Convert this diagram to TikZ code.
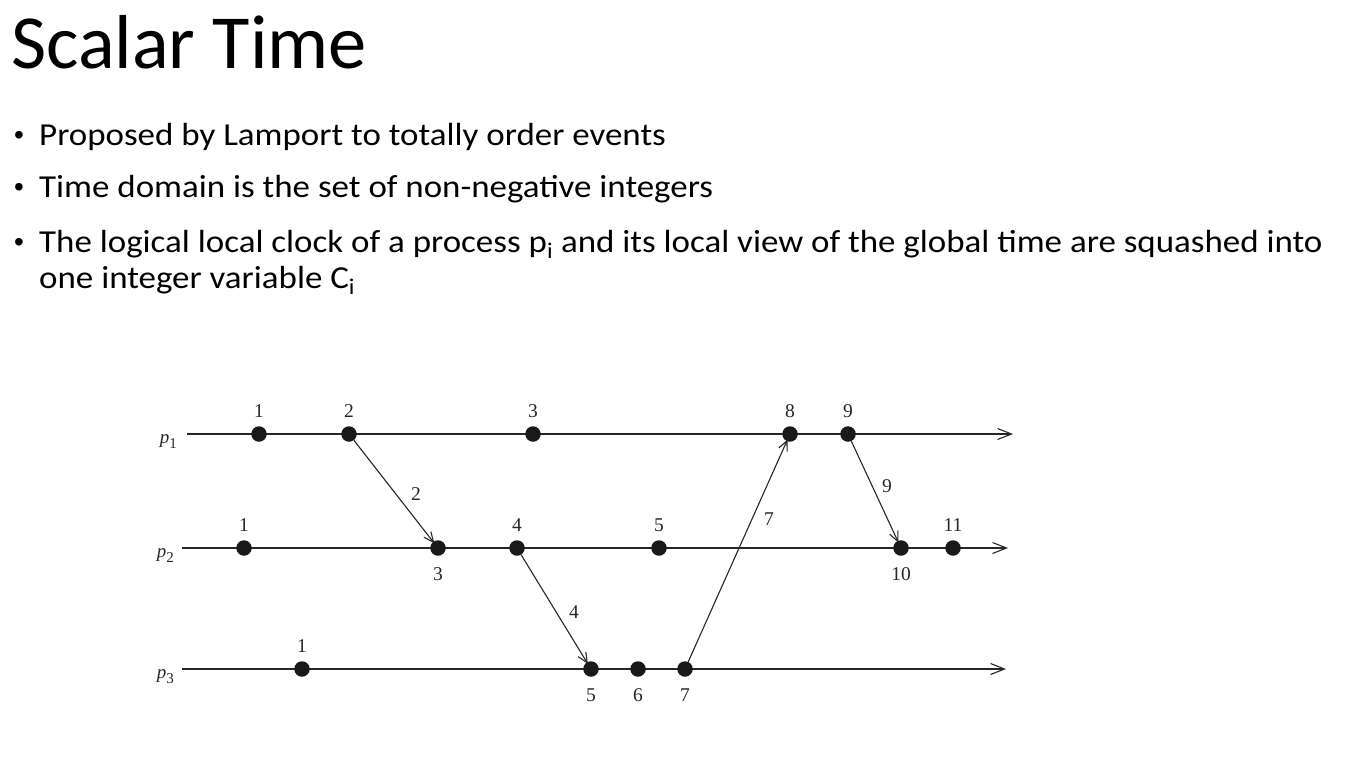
\documentclass[tikz,border=0pt]{standalone}
\usepackage{fontspec}
\setmainfont{Carlito}
\newfontfamily\bodyfont{Carlito}[FakeStretch=1.092]
\newfontfamily\dotfont{Liberation Sans}
\newfontfamily\figfont{Liberation Serif}
\usetikzlibrary{arrows.meta}
\newcommand{\procname}[1]{{\itshape p}\raisebox{-5pt}{\fontsize{15}{15}\selectfont #1}}
\begin{document}
\begin{tikzpicture}[x=1pt,y=-1pt,
  ev/.style={circle,fill=black!90,inner sep=0pt,minimum size=15.5pt},
  num/.style={font=\figfont\fontsize{19.5}{19.5}\selectfont,inner sep=0pt,text=black!85,text height=13.5pt,text depth=0pt},
  lab/.style={num,label distance=8pt},
  labb/.style={num,label distance=11pt},
  proc/.style={font=\figfont\fontsize{19}{19}\selectfont,inner sep=0pt,anchor=base east,text=black!85},
  timeline/.style={line width=1.1pt,draw=black!85,-{Straight Barb[length=14pt,width=11pt,line width=1.1pt]}},
  msg/.style={line width=1.1pt,draw=black!85,-{Straight Barb[length=10pt,width=9pt,line width=1.1pt]},shorten >=-2pt},
  bullet/.style={anchor=base west,inner sep=0pt,font=\bodyfont\fontsize{32}{32}\selectfont},
  bdot/.style={anchor=base west,inner sep=0pt,font=\dotfont\fontsize{28}{28}\selectfont},
]
\useasboundingbox (0,0) rectangle (1355,769);

% heading and bullet list
\node[anchor=base west,inner sep=0pt,font=\fontsize{76.5}{76.5}\selectfont] (title) at (11,68) {Scalar Time};
\node[bdot] (b1) at (14,144) {•};
\node[bullet] (t1) at (39,145) {Proposed by Lamport to totally order events};
\node[bdot] (b2) at (14,196) {•};
\node[bullet] (t2) at (39,197) {Time domain is the set of non-negative integers};
\node[bdot] (b3) at (14,251) {•};
\node[bullet] (t3) at (39,252) {The logical local clock of a process p\textsubscript{i} and its local view of the global time are squashed into};
\node[bullet] (t4) at (39,288) {one integer variable C\textsubscript{i}};

% process labels and time lines
\node[proc] (p1) at (177,443) {\procname{1}};
\node[proc] (p2) at (174,557) {\procname{2}};
\node[proc] (p3) at (174,678) {\procname{3}};
\coordinate (s1) at (187,434); \coordinate (e1) at (1013,434);
\coordinate (s2) at (182,548); \coordinate (e2) at (1008,548);
\coordinate (s3) at (182,669); \coordinate (e3) at (1006,669);
\draw[timeline] (s1) -- (e1);
\draw[timeline] (s2) -- (e2);
\draw[timeline] (s3) -- (e3);

% events of p1
\node[ev,label={[lab]above:1}] (a1) at (259,434) {};
\node[ev,label={[lab]above:2}] (a2) at (349,434) {};
\node[ev,label={[lab]above:3}] (a3) at (533,434) {};
\node[ev,label={[lab]above:8}] (a8) at (790,434) {};
\node[ev,label={[lab]above:9}] (a9) at (848,434) {};

% events of p2
\node[ev,label={[lab]above:1}] (b1e) at (244,548) {};
\node[ev,label={[labb]below:3}] (b3e) at (438,548) {};
\node[ev,label={[lab]above:4}] (b4e) at (517,548) {};
\node[ev,label={[lab]above:5}] (b5e) at (659,548) {};
\node[ev,label={[labb]below:10}] (b10) at (901,548) {};
\node[ev,label={[lab]above:11}] (b11) at (953,548) {};

% events of p3
\node[ev,label={[lab]above:1}] (c1) at (302,669) {};
\node[ev,label={[labb]below:5}] (c5) at (591,669) {};
\node[ev,label={[labb]below:6}] (c6) at (638,669) {};
\node[ev,label={[labb]below:7}] (c7) at (685,669) {};

% messages with their timestamps
\draw[msg] (a2) -- (b3e);
\node[num] (m2) at (416,494) {2};
\draw[msg] (b4e) -- (c5);
\node[num] (m4) at (574,612) {4};
\draw[msg] (c7) -- (a8);
\node[num] (m7) at (769,519) {7};
\draw[msg] (a9) -- (b10);
\node[num] (m9) at (887,486) {9};
\end{tikzpicture}
\end{document}
